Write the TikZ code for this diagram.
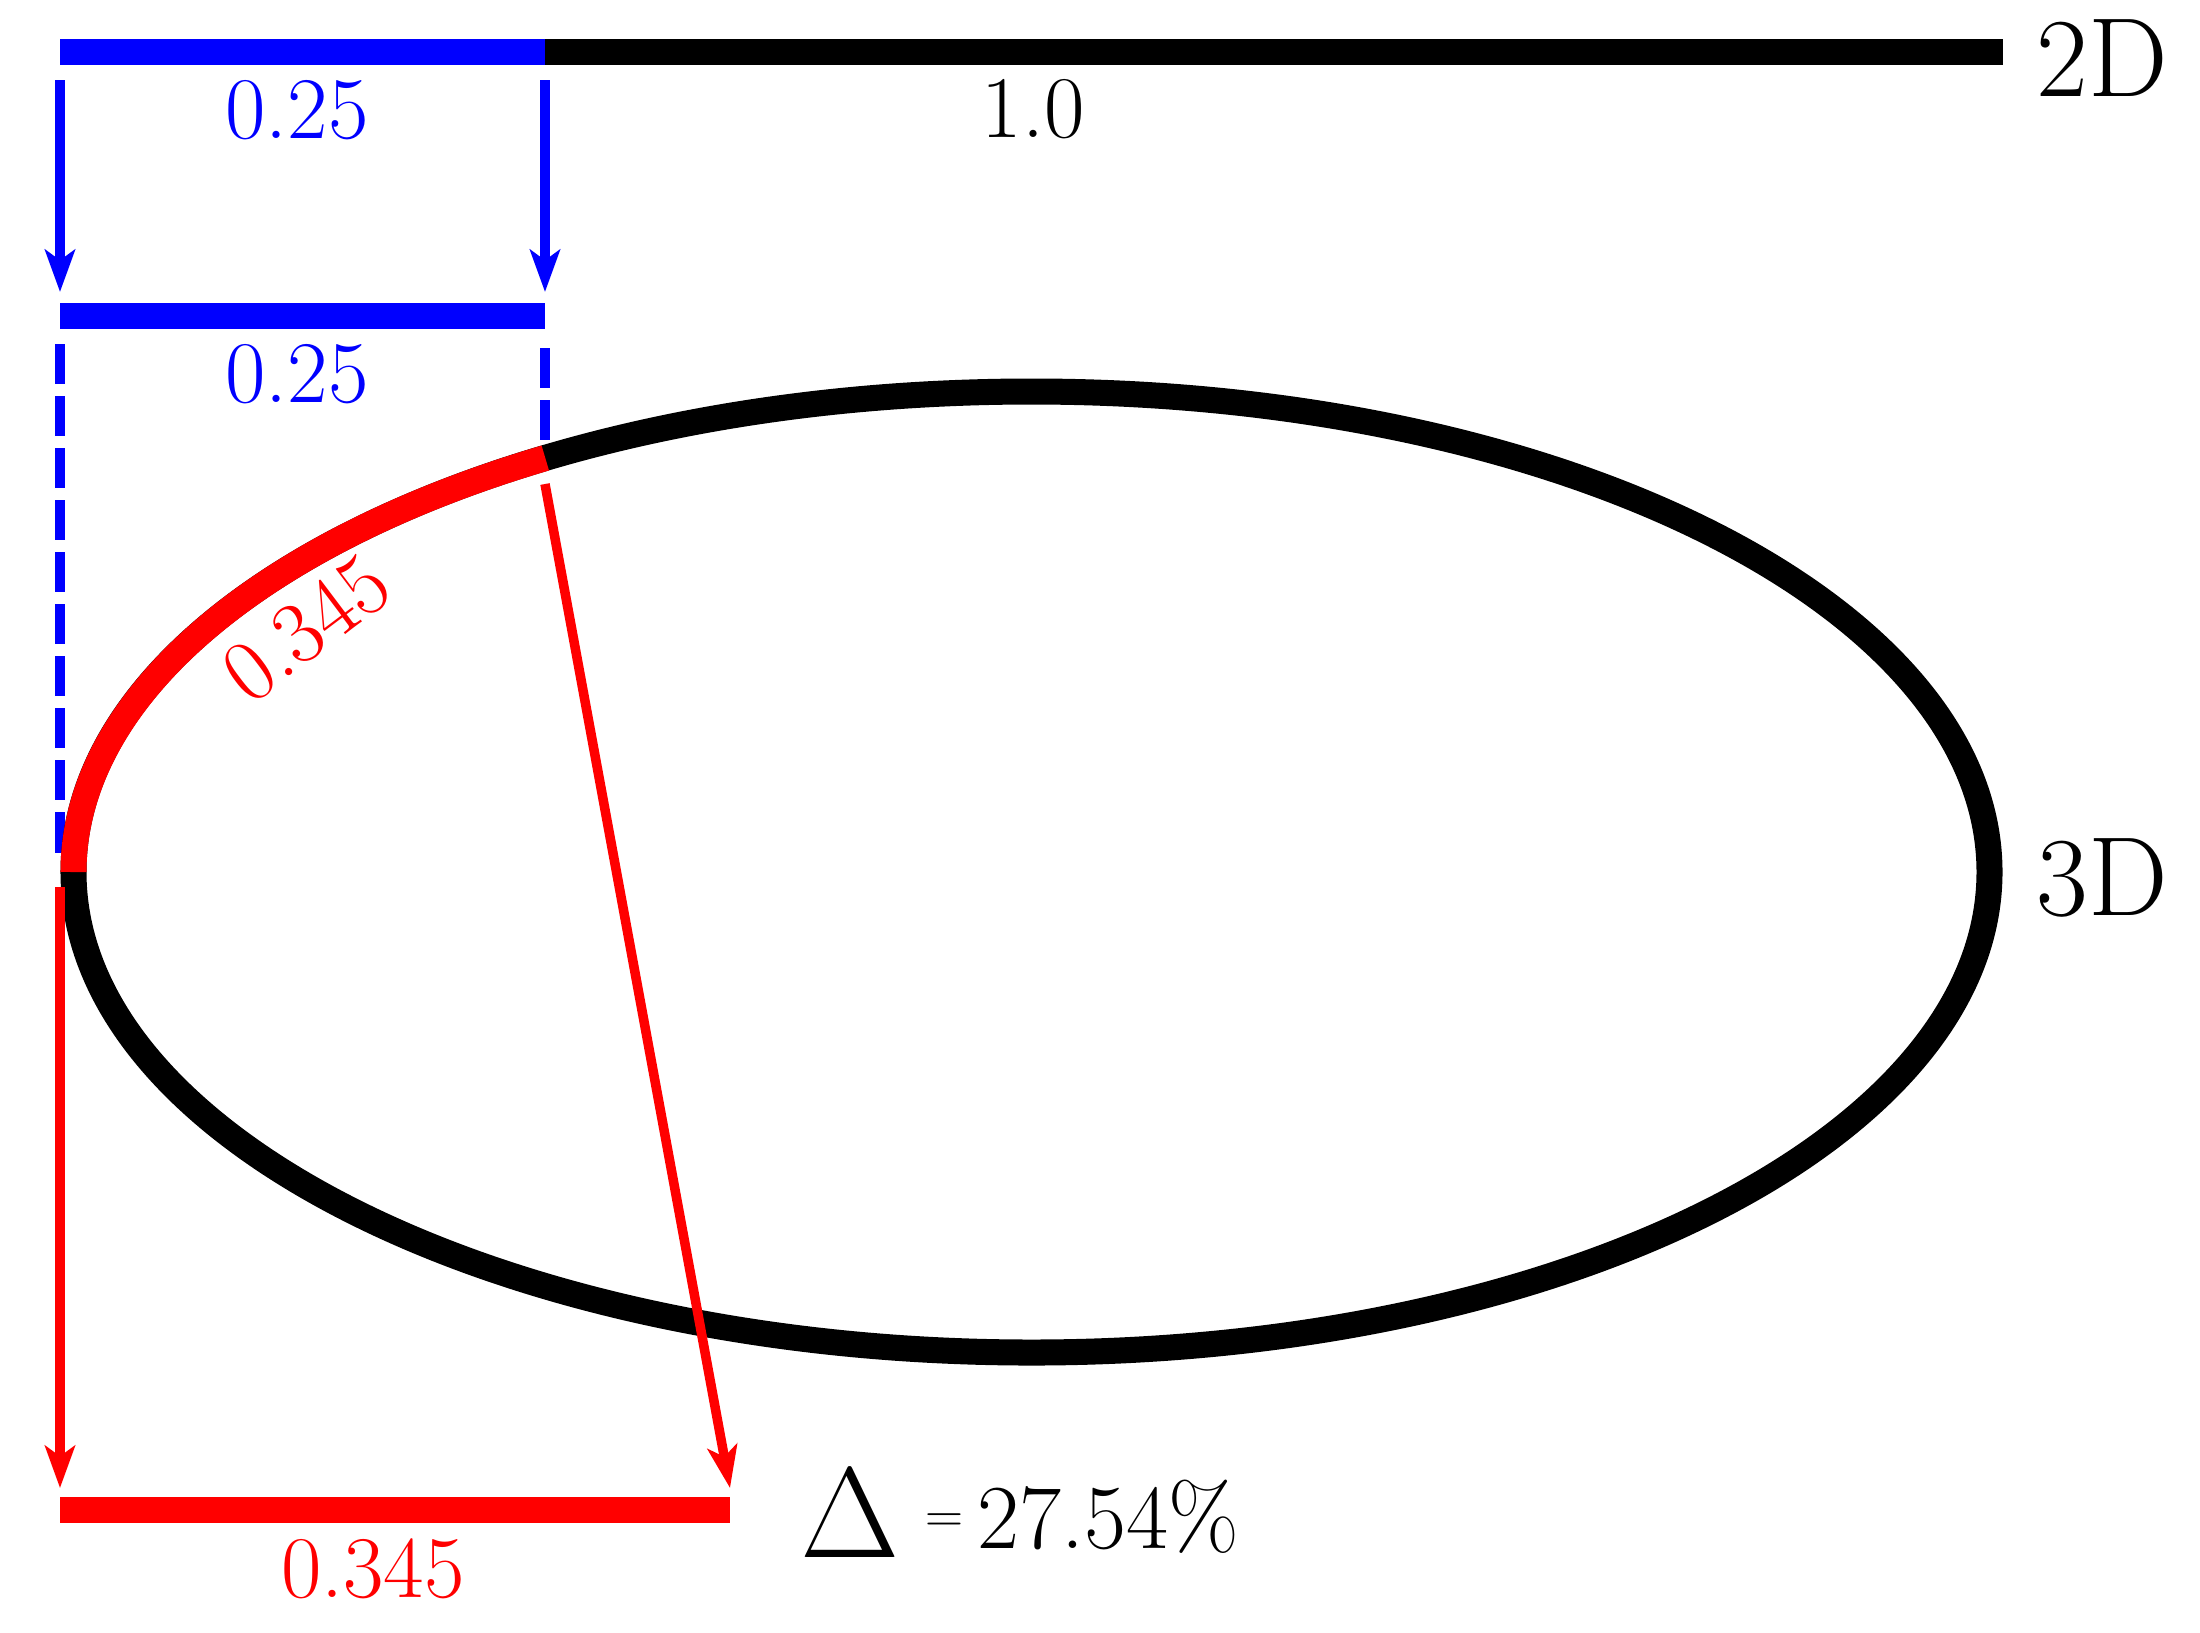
\documentclass[tikz,border=0pt]{standalone}
\usetikzlibrary{arrows.meta}
\definecolor{pureblue}{RGB}{0,0,255}
\definecolor{purered}{RGB}{255,0,0}
\tikzset{
  thickbar/.style={line width=7.4pt},
  thinline/.style={line width=2.7pt},
  arr/.style={-{Stealth[length=12pt,width=8.5pt,inset=3pt]}},
  dashline/.style={thinline, dash pattern=on 11.4pt off 3.4pt},
  lbl/.style={font=\fontsize{25}{29}\selectfont, inner sep=0pt},
  biglbl/.style={font=\fontsize{32}{36}\selectfont, inner sep=0pt},
}
\begin{document}
\begin{tikzpicture}[x=0.01cm,y=-0.01cm]
\fill[white] (0,0) rectangle (2200,1632);
\useasboundingbox (0,0) rectangle (2200,1632);

% key points
\coordinate (tL) at (60,52);
\coordinate (tM) at (545,52);
\coordinate (tR) at (2003,52);
\coordinate (a1s) at (60,80);
\coordinate (a1e) at (60,292);
\coordinate (a2s) at (545,80);
\coordinate (a2e) at (545,292);
\coordinate (bL) at (60,316);
\coordinate (bR) at (545,316);
\coordinate (d1s) at (60,344);
\coordinate (d1e) at (60,858);
\coordinate (d2s) at (545,348);
\coordinate (d2e) at (545,446);
\coordinate (ec) at (1031.5,872);
\coordinate (eL) at (73.5,872);
\coordinate (r1s) at (60,887);
\coordinate (r1e) at (60,1488);
\coordinate (r2s) at (545,484);
\coordinate (r2e) at (730,1488);
\coordinate (rL) at (60,1510);
\coordinate (rR) at (730,1510);

% 2D line
\draw[thickbar] (tM) -- (tR);
\draw[thickbar, pureblue] (tL) -- (tM);
\node[biglbl, anchor=west] (twoD) at (2036,58) {2D};
\node[lbl, pureblue] (l025a) at (297,110) {0.25};
\node[lbl] (l10) at (1033,109) {1.0};

% blue arrows and bar
\draw[thinline, arr, pureblue] (a1s) -- (a1e);
\draw[thinline, arr, pureblue] (a2s) -- (a2e);
\draw[thickbar, pureblue] (bL) -- (bR);
\node[lbl, pureblue] (l025b) at (297,374) {0.25};
\draw[dashline, pureblue] (d1s) -- (d1e);
\draw[dashline, pureblue] (d2s) -- (d2e);

% ellipse
\draw[thickbar] (ec) ellipse [x radius=958, y radius=480.5];
\draw[thickbar, purered] (eL) arc [start angle=180, end angle=239.5, x radius=958, y radius=480.5];
\node[biglbl, anchor=west] (threeD) at (2036,878) {3D};
\node[lbl, purered, rotate=37] (l345a) at (306,628) {0.345};

% red arrows and bar
\draw[thinline, arr, purered] (r1s) -- (r1e);
\draw[thinline, arr, purered] (r2s) -- (r2e);
\draw[thickbar, purered] (rL) -- (rR);
\node[lbl, purered] (l345b) at (373,1569) {0.345};

% delta
\node[inner sep=0pt, font=\fontsize{24.88}{30}\selectfont] (delta) at (850,1514) {\scalebox{1.47}{$\Delta$}};
\node[anchor=base west, inner sep=0pt, font=\fontsize{26}{30}\selectfont] (pct) at (925,1548) {\raisebox{4.4pt}{\fontsize{15}{18}\selectfont =}\hspace{4pt}27.54\%};
\end{tikzpicture}
\end{document}
